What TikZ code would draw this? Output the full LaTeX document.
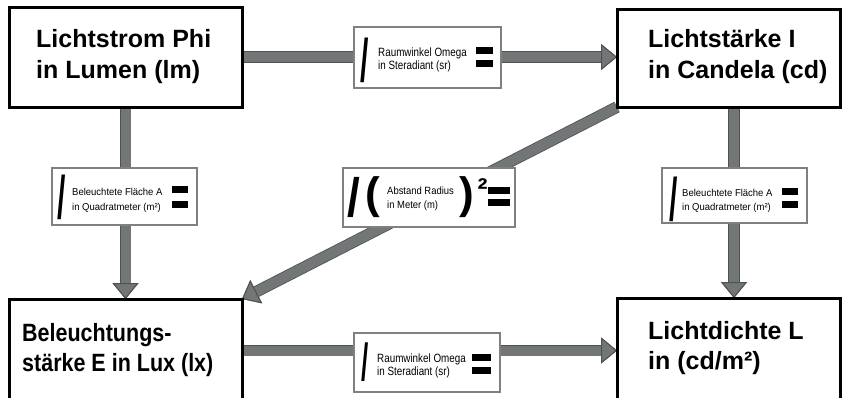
\documentclass[tikz,border=0pt]{standalone}
\usepackage{fontspec}
\setmainfont{Liberation Sans}
\newfontfamily\narrowfont[FakeStretch=0.86]{Liberation Sans}
\newfontfamily\tallfont[FakeStretch=0.82]{Liberation Sans}
\newfontfamily\areafont[FakeStretch=0.95]{Liberation Sans}
\newfontfamily\midfont[FakeStretch=0.9]{Liberation Sans}
\usetikzlibrary{arrows.meta}
\pgfdeclarelayer{background}
\pgfsetlayers{background,main}

\definecolor{arrowgray}{RGB}{114,118,118}
\definecolor{edgegray}{RGB}{78,82,82}
\definecolor{labelgray}{RGB}{128,128,128}

\tikzset{
  unitbox/.style={rectangle, draw=black, line width=3pt, fill=white, inner sep=0pt, outer sep=0pt},
  factorbox/.style={rectangle, draw=labelgray, line width=1.5pt, fill=white, inner sep=0pt, outer sep=0pt},
  bigline/.style={anchor=base west, inner sep=0pt, font=\bfseries\fontsize{25}{30}\selectfont},
  narrowline/.style={anchor=base west, inner sep=0pt, font=\narrowfont\bfseries\fontsize{25}{30}\selectfont},
  unitline/.style={anchor=base west, inner sep=0pt, font=\tallfont\fontsize{12}{13}\selectfont},
  arealine/.style={anchor=base west, inner sep=0pt, font=\areafont\fontsize{10}{12}\selectfont},
  radline/.style={anchor=base west, inner sep=0pt, font=\midfont\fontsize{10.5}{12}\selectfont},
  divsign/.style={inner sep=0pt, font=\bfseries\fontsize{#1}{#1}\selectfont},
  bigsign/.style={inner sep=0pt, font=\bfseries\fontsize{#1}{#1}\selectfont},
  eqbar/.style={fill=black, draw=none},
  flow/.style={line width=10pt, arrowgray,
    -{Triangle[length=16pt 0, width=26pt 0, line width=1pt 0, fill=arrowgray, color=edgegray]},
    preaction={draw=edgegray, line width=11.6pt,
      -{Triangle[length=16pt 0, width=26pt 0, line width=1pt 0, fill=edgegray, color=edgegray]}}},
}

\begin{document}
\begin{tikzpicture}[x=1pt, y=-1pt]
  \useasboundingbox (0,0) rectangle (842,397);
  \clip (0,0) rectangle (842,397);

  % the four photometric quantities
  \node[unitbox, minimum width=233pt, minimum height=100pt] (lumen)   at (125.5,57)  {};
  \node[unitbox, minimum width=223pt, minimum height=98pt]  (candela) at (728.5,58)  {};
  \node[unitbox, minimum width=233pt, minimum height=103pt] (lux)     at (125.5,350.5) {};
  \node[unitbox, minimum width=223pt, minimum height=104pt] (lumdens) at (728.5,350) {};

  \node[bigline] (lumenA) at (36,47) {Lichtstrom Phi};
  \node[bigline] (lumenB) at (36,78) {in Lumen (lm)};
  \node[bigline] (candelaA) at (648,47) {Lichtstärke I};
  \node[bigline] (candelaB) at (648,78) {in Candela (cd)};
  \node[narrowline] (luxA) at (22,341) {Beleuchtungs-};
  \node[narrowline] (luxB) at (22,371) {stärke E in Lux (lx)};
  \node[bigline] (lumdensA) at (648,339) {Lichtdichte L};
  \node[bigline] (lumdensB) at (648,369) {in (cd/m²)};

  % connectors between the quantities
  \begin{pgfonlayer}{background}
    \draw[flow] (lumen.east) -- (lumen.east -| candela.west);
    \draw[flow] (lux.east) -- (lux.east -| lumdens.west);
    \draw[flow] (lumen.south) -- (lux.north);
    \draw[flow] ([xshift=5.5pt]candela.south) -- ([xshift=5.5pt]lumdens.north);
    \draw[flow] (candela.south west) -- (lux.north east);
  \end{pgfonlayer}

  % top: divide by solid angle
  \node[factorbox, minimum width=147pt, minimum height=61pt] (omegaT) at (427.5,57.5) {};
  \node[divsign=60] (omegaTdiv) at (365,60.5) {\scalebox{0.5}[1]{/}};
  \node[unitline] (omegaTa) at (378,56) {Raumwinkel Omega};
  \node[unitline] (omegaTb) at (378,69) {in Steradiant (sr)};
  \fill[eqbar] (476,46.5) rectangle (493,53.5);
  \fill[eqbar] (476,59.5) rectangle (493,66.5);

  % bottom: divide by solid angle
  \node[factorbox, minimum width=146pt, minimum height=59pt] (omegaB) at (427,362.5) {};
  \node[divsign=52] (omegaBdiv) at (365,362.5) {\scalebox{0.5}[1]{/}};
  \node[unitline] (omegaBa) at (377,362) {Raumwinkel Omega};
  \node[unitline] (omegaBb) at (377,375) {in Steradiant (sr)};
  \fill[eqbar] (472,353.5) rectangle (491,360.5);
  \fill[eqbar] (472,367) rectangle (491,374);

  % left: divide by illuminated area
  \node[factorbox, minimum width=145pt, minimum height=57pt] (areaL) at (124.5,196.5) {};
  \node[divsign=60] (areaLdiv) at (62,197.5) {\scalebox{0.5}[1]{/}};
  \node[arealine] (areaLa) at (72,195) {Beleuchtete Fläche A};
  \node[arealine] (areaLb) at (72,210) {in Quadratmeter (m²)};
  \fill[eqbar] (172,186) rectangle (188,193);
  \fill[eqbar] (172,201) rectangle (188,208);

  % right: divide by illuminated area
  \node[factorbox, minimum width=145pt, minimum height=55pt] (areaR) at (734.5,195.5) {};
  \node[divsign=60] (areaRdiv) at (674,199.5) {\scalebox{0.5}[1]{/}};
  \node[arealine] (areaRa) at (682,196) {Beleuchtete Fläche A};
  \node[arealine] (areaRb) at (682,210) {in Quadratmeter (m²)};
  \fill[eqbar] (782,187.5) rectangle (798,194.5);
  \fill[eqbar] (782,201) rectangle (798,208);

  % diagonal: divide by squared distance
  \node[factorbox, minimum width=172pt, minimum height=59pt] (radius) at (429,197.5) {};
  \node[bigsign=54] (radiusdiv) at (354,197) {\scalebox{0.85}[1]{/}};
  \node[bigsign=44] (radiusopen) at (372.5,197.5) {(};
  \node[radline] (radiusA) at (387,194) {Abstand Radius};
  \node[radline] (radiusB) at (387,208) {in Meter (m)};
  \node[bigsign=44] (radiusclose) at (466.5,197.5) {)};
  \node[bigsign=30] (radiussq) at (482.5,189) {²};
  \fill[eqbar] (488,187) rectangle (510,194);
  \fill[eqbar] (488,199) rectangle (510,206);
\end{tikzpicture}
\end{document}
